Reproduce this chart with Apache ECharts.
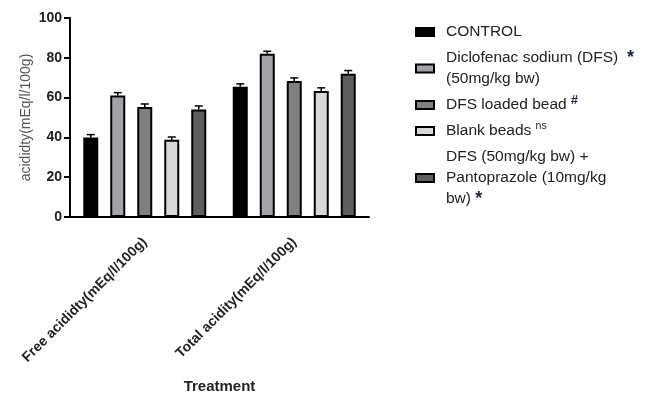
<!DOCTYPE html>
<html>
<head>
<meta charset="utf-8">
<script src="https://cdn.jsdelivr.net/npm/echarts@6/dist/echarts.min.js"></script>
<style>html,body{margin:0;padding:0;background:#fff;}#c{width:660px;height:399px;}</style>
</head>
<body>
<div id="c"></div>
<script>
const categories = ['Free acididty(mEq/l/100g)', 'Total acidity(mEq/l/100g)'];
const groupNames = ['CONTROL', 'Diclofenac sodium (DFS) (50mg/kg bw)', 'DFS loaded bead', 'Blank beads', 'DFS (50mg/kg bw) + Pantoprazole (10mg/kg bw)'];
const controlValues = [40.0, 65.4];
const diclofenacValues = [61.0, 82.0];
const loadedBeadValues = [55.3, 68.4];
const blankBeadValues = [38.8, 63.3];
const pantoprazoleValues = [54.0, 72.0];
const controlErr = [1.4, 1.5];
const diclofenacErr = [1.5, 1.3];
const loadedBeadErr = [1.5, 1.5];
const blankBeadErr = [1.4, 1.6];
const pantoprazoleErr = [1.8, 1.6];
const yTicks = [0, 20, 40, 60, 80, 100];

const values = [controlValues, diclofenacValues, loadedBeadValues, blankBeadValues, pantoprazoleValues];
const errs = [controlErr, diclofenacErr, loadedBeadErr, blankBeadErr, pantoprazoleErr];
const colors = ['#000000', '#a3a3a8', '#808080', '#d8d8d8', '#5e5e5e'];
const legendText = {
  'CONTROL': '{t|CONTROL}',
  'Diclofenac sodium (DFS) (50mg/kg bw)': '{t|Diclofenac sodium (DFS)}{t|  }{star|*}\n{t|(50mg/kg bw)}',
  'DFS loaded bead': '{t|DFS loaded bead }{sup2|#}',
  'Blank beads': '{t|Blank beads }{sup|ns}',
  'DFS (50mg/kg bw) + Pantoprazole (10mg/kg bw)': '{t|DFS (50mg/kg bw) +}\n{t|Pantoprazole (10mg/kg}\n{t|bw) }{star|*}'
};

const BAR_W = 15, PITCH = 27;
const series = [];
groupNames.forEach((n, i) => {
  series.push({
    name: n, type: 'bar', data: values[i], barWidth: BAR_W, barGap: '80%',
    itemStyle: { color: colors[i], borderColor: '#000', borderWidth: 2 },
    z: 2
  });
});
groupNames.forEach((n, i) => {
  const off = (i - 2) * PITCH;
  series.push({
    type: 'custom', z: 5, silent: true,
    data: values[i].map((v, k) => [k, v, errs[i][k]]),
    renderItem: function (params, api) {
      const base = api.coord([api.value(0), api.value(1)]);
      const top = api.coord([api.value(0), api.value(1) + api.value(2)]);
      const x = base[0] + off;
      return {
        type: 'group',
        children: [
          { type: 'line', shape: { x1: x, y1: base[1], x2: x, y2: top[1] }, style: { stroke: '#000', lineWidth: 1.5 } },
          { type: 'line', shape: { x1: x - 4, y1: top[1], x2: x + 4, y2: top[1] }, style: { stroke: '#000', lineWidth: 1.5 } }
        ]
      };
    }
  });
});

const FF = 'Liberation Sans, Arial, sans-serif';
const chart = echarts.init(document.getElementById('c'), null, { renderer: 'canvas' });
chart.setOption({
  animation: false,
  backgroundColor: '#fff',
  textStyle: { fontFamily: FF },
  grid: { left: 70, right: 291, top: 18, bottom: 180, containLabel: false },
  legend: {
    orient: 'vertical', left: 415, top: 21.5, padding: 0,
    data: groupNames,
    itemWidth: 18, itemHeight: 8, itemGap: 5,
    icon: 'rect',
    formatter: n => legendText[n],
    textStyle: {
      fontSize: 15.5, color: '#222', lineHeight: 21, padding: [0, 0, 0, 7],
      rich: {
        t: { fontSize: 15.5, color: '#222', lineHeight: 21, fontFamily: FF },
        sup: { fontSize: 10.5, color: '#222', lineHeight: 21, verticalAlign: 'top', fontFamily: FF },
        sup2: { fontSize: 12.5, fontWeight: 'bold', color: '#1c2438', lineHeight: 21, verticalAlign: 'top', fontFamily: FF },
        star: { fontSize: 18, fontWeight: 'bold', color: '#1c2438', lineHeight: 21, fontFamily: FF }
      }
    }
  },
  xAxis: {
    type: 'category', data: categories,
    name: 'Treatment', nameLocation: 'middle', nameGap: 162,
    nameTextStyle: { fontSize: 15, fontWeight: 'bold', color: '#222' },
    axisLine: { lineStyle: { color: '#000', width: 2 } },
    axisTick: { alignWithLabel: true, length: 8, lineStyle: { color: '#000', width: 2 } },
    axisLabel: { rotate: 45, fontSize: 14, fontWeight: 'bold', color: '#222', margin: 23, interval: 0 }
  },
  yAxis: {
    type: 'value', min: 0, max: 100, interval: 20,
    name: 'acididty(mEq/l/100g)', nameLocation: 'middle', nameGap: 37, nameRotate: 90,
    nameTextStyle: { fontSize: 14, color: '#555' },
    axisLine: { show: true, lineStyle: { color: '#000', width: 2 } },
    axisTick: { show: true, length: 6, lineStyle: { color: '#000', width: 2 } },
    axisLabel: { fontSize: 14, fontWeight: 'bold', color: '#222', margin: 8,
      formatter: v => yTicks.indexOf(v) >= 0 ? String(v) : '' },
    splitLine: { show: false }
  },
  series: series
});
</script>
</body>
</html>
